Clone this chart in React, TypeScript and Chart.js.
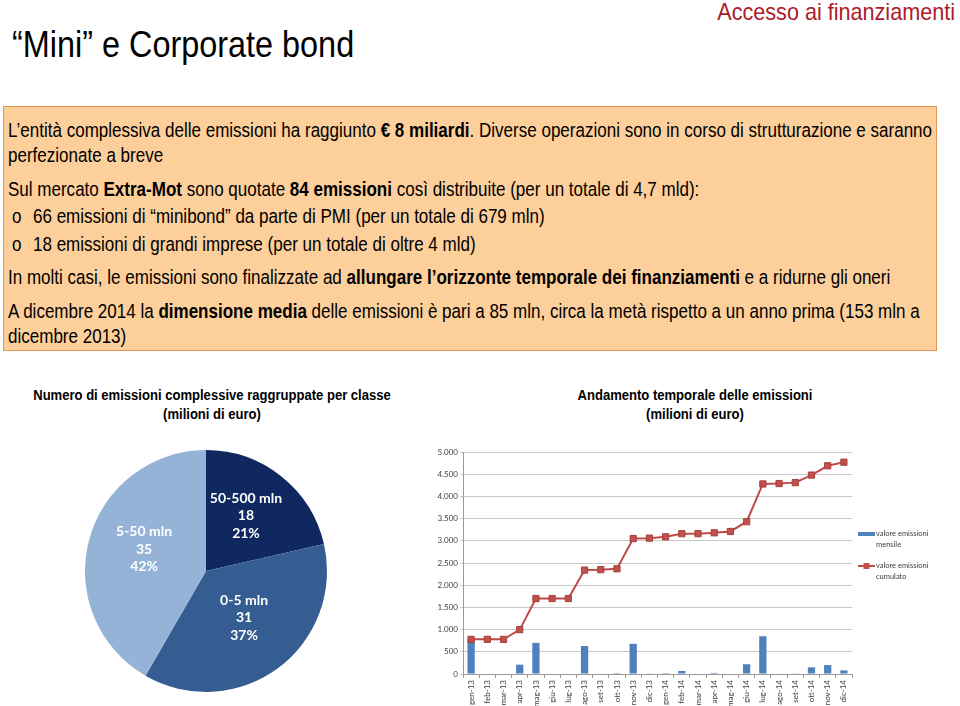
import React, { useEffect, useRef } from 'react';
import { Chart, registerables } from 'chart.js';

Chart.register(...registerables);

// ---------- data ----------
const months = [
  'gen-13', 'feb-13', 'mar-13', 'apr-13', 'mag-13', 'giu-13', 'lug-13', 'ago-13', 'set-13', 'ott-13', 'nov-13', 'dic-13',
  'gen-14', 'feb-14', 'mar-14', 'apr-14', 'mag-14', 'giu-14', 'lug-14', 'ago-14', 'set-14', 'ott-14', 'nov-14', 'dic-14',
];
const monthlyValues = [780, 0, 0, 210, 700, 0, 0, 630, 10, 20, 680, 15, 20, 70, 0, 25, 0, 220, 850, 10, 15, 150, 200, 80];
const cumulativeValues = [780, 780, 780, 1000, 1700, 1700, 1700, 2340, 2350, 2370, 3050, 3060, 3090, 3160, 3160, 3180, 3210, 3430, 4280, 4290, 4310, 4480, 4690, 4770];
const yMax = 5000;
const yStep = 500;
const legendMonthly = ['valore emissioni', 'mensile'];
const legendCumulative = ['valore emissioni', 'cumulato'];

const pieClasses = ['50-500 mln', '0-5 mln', '5-50 mln'];
const pieCounts = [18, 31, 35];
const pieColors = ['#0f2860', '#365d92', '#95b3d7'];

// ---------- styling ----------
const FONT = '"Liberation Sans", Arial, sans-serif';
const BAR_COLOR = '#4f81bd';
const LINE_COLOR = '#be4b48';

const fmt = (v: number) => String(v).replace(/\B(?=(\d{3})+(?!\d))/g, '.');

type TProps = {
  x: number;
  base: number;
  size: number;
  sx?: number;
  bold?: boolean;
  color?: string;
  anchor?: 'left' | 'center' | 'right';
  children: React.ReactNode;
};

function T({ x, base, size, sx = 0.9, bold, color = '#000', anchor = 'left', children }: TProps) {
  const top = base - 0.85 * size;
  const common: React.CSSProperties = {
    position: 'absolute',
    top,
    fontSize: size,
    lineHeight: `${size}px`,
    fontWeight: bold ? 'bold' : 'normal',
    color,
    whiteSpace: 'nowrap',
    transform: `scaleX(${sx})`,
  };
  if (anchor === 'left') {
    return <div style={{ ...common, left: x, transformOrigin: '0 0' }}>{children}</div>;
  }
  if (anchor === 'center') {
    return (
      <div style={{ ...common, left: x - 400, width: 800, textAlign: 'center', transformOrigin: '50% 0' }}>{children}</div>
    );
  }
  return (
    <div style={{ ...common, left: x - 800, width: 800, textAlign: 'right', transformOrigin: '100% 0' }}>{children}</div>
  );
}

function PieChart() {
  const ref = useRef<HTMLCanvasElement>(null);
  useEffect(() => {
    if (!ref.current) return;
    const total = pieCounts.reduce((a, b) => a + b, 0);
    const labelPlugin = {
      id: 'sliceLabels',
      afterDatasetsDraw(chart: any) {
        const ctx = chart.ctx;
        const meta = chart.getDatasetMeta(0);
        ctx.save();
        ctx.fillStyle = '#ffffff';
        ctx.font = 'bold 14px Lato, "Open Sans", sans-serif';
        ctx.textAlign = 'center';
        ctx.textBaseline = 'middle';
        meta.data.forEach((arc: any, i: number) => {
          const p = arc.getProps(['x', 'y', 'startAngle', 'endAngle', 'outerRadius'], true);
          const mid = (p.startAngle + p.endAngle) / 2;
          const r = p.outerRadius * 0.53;
          const cx = p.x + Math.cos(mid) * r;
          const cy = p.y + Math.sin(mid) * r - 5;
          const lines = [pieClasses[i], String(pieCounts[i]), Math.round((pieCounts[i] / total) * 100) + '%'];
          lines.forEach((t, k) => ctx.fillText(t, cx, cy + (k - 1) * 17.5));
        });
        ctx.restore();
      },
    };
    const chart = new Chart(ref.current, {
      type: 'pie',
      data: {
        labels: pieClasses,
        datasets: [{ data: pieCounts, backgroundColor: pieColors, borderWidth: 0 }],
      },
      options: {
        responsive: false,
        animation: false,
        layout: { padding: { left: 25, right: 33, top: 10, bottom: 8 } },
        plugins: { legend: { display: false }, tooltip: { enabled: false } },
      },
      plugins: [labelPlugin],
    } as any);
    return () => chart.destroy();
  }, []);
  return (
    <div style={{ position: 'absolute', left: 60, top: 440, width: 300, height: 260 }}>
      <canvas ref={ref} width={300} height={260} style={{ width: 300, height: 260, display: 'block' }} />
    </div>
  );
}

function LineChart() {
  const ref = useRef<HTMLCanvasElement>(null);
  useEffect(() => {
    if (!ref.current) return;
    const legendPlugin = {
      id: 'sideLegend',
      afterDraw(chart: any) {
        const ctx = chart.ctx;
        const x0 = chart.chartArea.right + 6;
        ctx.save();
        ctx.font = '7.5px Lato, "Open Sans", sans-serif';
        ctx.textAlign = 'left';
        ctx.textBaseline = 'middle';
        // monthly
        ctx.fillStyle = BAR_COLOR;
        ctx.fillRect(x0, 92, 17, 4);
        ctx.fillStyle = '#404040';
        ctx.fillText(legendMonthly[0], x0 + 18, 94);
        ctx.fillText(legendMonthly[1], x0 + 18, 105);
        // cumulative
        ctx.strokeStyle = LINE_COLOR;
        ctx.lineWidth = 2;
        ctx.beginPath();
        ctx.moveTo(x0, 126);
        ctx.lineTo(x0 + 17, 126);
        ctx.stroke();
        ctx.fillStyle = '#c0504d';
        ctx.fillRect(x0 + 5.5, 123, 6, 6);
        ctx.fillStyle = '#404040';
        ctx.fillText(legendCumulative[0], x0 + 18, 126);
        ctx.fillText(legendCumulative[1], x0 + 18, 137);
        ctx.restore();
      },
    };
    const chart = new Chart(ref.current, {
      type: 'bar',
      data: {
        labels: months,
        datasets: [
          {
            type: 'line',
            label: 'valore emissioni cumulato',
            data: cumulativeValues,
            borderColor: LINE_COLOR,
            borderWidth: 2,
            backgroundColor: '#c0504d',
            pointStyle: 'rect',
            pointRadius: 4.4,
            pointBackgroundColor: '#c0504d',
            pointBorderColor: '#a8403d',
            pointBorderWidth: 1,
            tension: 0,
            fill: false,
          },
          {
            type: 'bar',
            label: 'valore emissioni mensile',
            data: monthlyValues,
            backgroundColor: BAR_COLOR,
            borderWidth: 0,
            categoryPercentage: 0.45,
            barPercentage: 1,
          },
        ],
      },
      options: {
        responsive: false,
        animation: false,
        layout: { padding: { left: 0, top: 12, right: 108, bottom: 0 } },
        plugins: { legend: { display: false }, tooltip: { enabled: false } },
        scales: {
          x: {
            offset: true,
            grid: { display: true, drawOnChartArea: false, drawTicks: true, tickLength: 4, color: '#9a9a9a' },
            border: { display: true, color: '#9a9a9a', width: 1 },
            ticks: {
              autoSkip: false,
              minRotation: 90,
              maxRotation: 90,
              padding: 2,
              color: '#404040',
              font: { family: 'Lato, "Open Sans", sans-serif', size: 8 },
            },
            afterFit: (s: any) => {
              s.height = 32;
            },
          },
          y: {
            min: 0,
            max: yMax,
            grid: { color: '#c8c8c8', lineWidth: 1, tickLength: 3 },
            border: { display: true, color: '#9a9a9a', width: 1 },
            ticks: {
              stepSize: yStep,
              padding: 2,
              color: '#404040',
              font: { family: 'Lato, "Open Sans", sans-serif', size: 8 },
              callback: (v: any) => fmt(Number(v)),
            },
            afterFit: (s: any) => {
              s.width = 38;
            },
          },
        },
      },
      plugins: [legendPlugin],
    } as any);
    return () => chart.destroy();
  }, []);
  return (
    <div style={{ position: 'absolute', left: 425, top: 440, width: 535, height: 266 }}>
      <canvas ref={ref} width={535} height={266} style={{ width: 535, height: 266, display: 'block' }} />
    </div>
  );
}

export default function App() {
  const body = 20.5;
  const bsx = 0.83;
  return (
    <div
      style={{
        position: 'absolute',
        left: 0,
        top: 0,
        width: 960,
        height: 706,
        background: '#ffffff',
        overflow: 'hidden',
        fontFamily: FONT,
        color: '#000',
      }}
    >
      <T x={955} base={20} size={24} anchor="right" color="#ac1a2a">
        Accesso ai finanziamenti
      </T>
      <T x={12} base={58} size={36}>
        “Mini” e Corporate bond
      </T>

      <div
        style={{
          position: 'absolute',
          left: 3,
          top: 106,
          width: 934,
          height: 245,
          boxSizing: 'border-box',
          background: '#fdcf9a',
          border: '1.5px solid #e4965a',
        }}
      />

      <T x={8} base={137} size={body} sx={bsx}>
        L’entità complessiva delle emissioni ha raggiunto <b>€ 8 miliardi</b>. Diverse operazioni sono in corso di strutturazione e saranno
      </T>
      <T x={8} base={162} size={body} sx={bsx}>
        perfezionate a breve
      </T>
      <T x={8} base={196} size={body} sx={bsx}>
        Sul mercato <b>Extra-Mot</b> sono quotate <b>84 emissioni</b> così distribuite (per un totale di 4,7 mld):
      </T>
      <T x={12} base={223} size={body} sx={bsx}>
        o
      </T>
      <T x={33} base={223} size={body} sx={bsx}>
        66 emissioni di “minibond” da parte di PMI (per un totale di 679 mln)
      </T>
      <T x={12} base={251} size={body} sx={bsx}>
        o
      </T>
      <T x={33} base={251} size={body} sx={bsx}>
        18 emissioni di grandi imprese (per un totale di oltre 4 mld)
      </T>
      <T x={8} base={284} size={body} sx={bsx}>
        In molti casi, le emissioni sono finalizzate ad <b>allungare l’orizzonte temporale dei finanziamenti</b> e a ridurne gli oneri
      </T>
      <T x={8} base={318} size={body} sx={bsx}>
        A dicembre 2014 la <b>dimensione media</b> delle emissioni è pari a 85 mln, circa la metà rispetto a un anno prima (153 mln a
      </T>
      <T x={8} base={343} size={body} sx={bsx}>
        dicembre 2013)
      </T>

      <T x={212} base={400} size={14.5} bold anchor="center">
        Numero di emissioni complessive raggruppate per classe
      </T>
      <T x={212} base={419} size={14.5} bold anchor="center">
        (milioni di euro)
      </T>
      <T x={695} base={400} size={14.5} bold anchor="center">
        Andamento temporale delle emissioni
      </T>
      <T x={695} base={419} size={14.5} bold anchor="center">
        (milioni di euro)
      </T>

      <PieChart />
      <LineChart />
    </div>
  );
}
